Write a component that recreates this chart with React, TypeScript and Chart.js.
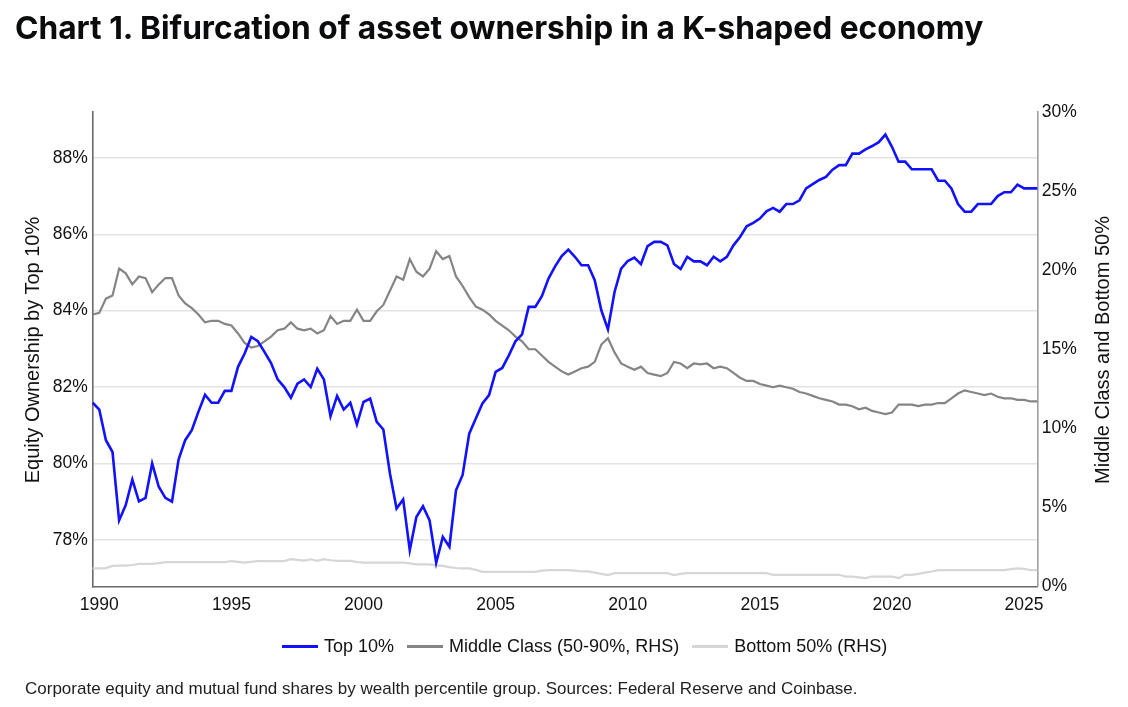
import React, { useEffect, useRef } from "react";
import { Chart, registerables } from "chart.js";

Chart.register(...registerables);

// ---------- data ----------
const years = [
  1989, 1990, 1991, 1992, 1993, 1994, 1995, 1996, 1997, 1998, 1999, 2000, 2001,
  2002, 2003, 2004, 2005, 2006, 2007, 2008, 2009, 2010, 2011, 2012, 2013, 2014,
  2015, 2016, 2017, 2018, 2019, 2020, 2021, 2022, 2023, 2024, 2025,
];
const quarterNames = ["Q1", "Q2", "Q3", "Q4"];
const firstQuarterOffset = 3; // series starts 1989 Q4

const xTickYears = [1990, 1995, 2000, 2005, 2010, 2015, 2020, 2025];
const leftTicks = [78, 80, 82, 84, 86, 88];
const rightTicks = [0, 5, 10, 15, 20, 25, 30];

const top10 = [
  81.59, 81.41, 80.61, 80.3, 78.51, 78.91, 79.58, 79.01, 79.1, 80.0,
  79.39, 79.1, 79.0, 80.1, 80.61, 80.87, 81.35, 81.8, 81.59, 81.59,
  81.9, 81.9, 82.53, 82.88, 83.31, 83.2, 82.92, 82.63, 82.2, 82.0,
  81.72, 82.09, 82.2, 82.0, 82.48, 82.2, 81.24, 81.77, 81.41, 81.59,
  81.02, 81.61, 81.7, 81.09, 80.89, 79.74, 78.82, 79.06, 77.73, 78.6,
  78.88, 78.51, 77.4, 78.08, 77.82, 79.3, 79.7, 80.78, 81.18, 81.57,
  81.79, 82.4, 82.5, 82.83, 83.2, 83.38, 84.1, 84.1, 84.38, 84.84,
  85.16, 85.43, 85.6, 85.41, 85.19, 85.19, 84.8, 84.01, 83.51, 84.49,
  85.1, 85.3, 85.39, 85.22, 85.69, 85.8, 85.8, 85.71, 85.22, 85.09,
  85.41, 85.29, 85.29, 85.19, 85.41, 85.29, 85.41, 85.71, 85.93, 86.21,
  86.3, 86.41, 86.6, 86.69, 86.59, 86.79, 86.79, 86.89, 87.2, 87.31,
  87.42, 87.5, 87.69, 87.81, 87.81, 88.11, 88.11, 88.22, 88.31, 88.41,
  88.61, 88.29, 87.9, 87.9, 87.7, 87.7, 87.7, 87.7, 87.4, 87.4,
  87.2, 86.79, 86.59, 86.59, 86.79, 86.79, 86.79, 87.0, 87.1, 87.1,
  87.3, 87.2, 87.2, 87.2,
];

const middleClass = [
  17.2, 17.3, 18.2, 18.4, 20.1, 19.8, 19.1, 19.6, 19.5, 18.6,
  19.1, 19.5, 19.5, 18.4, 17.9, 17.6, 17.2, 16.7, 16.8, 16.8,
  16.6, 16.5, 16.0, 15.4, 15.1, 15.2, 15.5, 15.8, 16.2, 16.3,
  16.7, 16.3, 16.2, 16.3, 16.0, 16.2, 17.1, 16.6, 16.8, 16.8,
  17.5, 16.8, 16.8, 17.4, 17.8, 18.7, 19.6, 19.4, 20.7, 19.9,
  19.6, 20.1, 21.2, 20.7, 20.9, 19.6, 19.0, 18.3, 17.7, 17.5,
  17.2, 16.8, 16.5, 16.2, 15.8, 15.5, 15.0, 15.0, 14.6, 14.2,
  13.9, 13.6, 13.4, 13.6, 13.8, 13.9, 14.2, 15.3, 15.7, 14.8,
  14.1, 13.9, 13.7, 13.9, 13.5, 13.4, 13.3, 13.5, 14.2, 14.1,
  13.8, 14.1, 14.05, 14.1, 13.8, 13.9, 13.8, 13.5, 13.2, 13.0,
  13.0, 12.8, 12.7, 12.6, 12.7, 12.6, 12.5, 12.3, 12.2, 12.05,
  11.9, 11.8, 11.7, 11.5, 11.5, 11.4, 11.2, 11.3, 11.1, 11.0,
  10.9, 11.0, 11.5, 11.5, 11.5, 11.4, 11.5, 11.5, 11.6, 11.6,
  11.9, 12.2, 12.4, 12.3, 12.2, 12.1, 12.2, 12.0, 11.9, 11.9,
  11.8, 11.8, 11.7, 11.7,
];

const bottom50 = [
  1.14, 1.14, 1.16, 1.3, 1.32, 1.32, 1.36, 1.43, 1.43, 1.43,
  1.48, 1.54, 1.54, 1.54, 1.54, 1.54, 1.54, 1.54, 1.54, 1.54,
  1.54, 1.61, 1.56, 1.51, 1.56, 1.61, 1.61, 1.61, 1.61, 1.61,
  1.73, 1.68, 1.64, 1.72, 1.62, 1.73, 1.66, 1.62, 1.62, 1.62,
  1.55, 1.51, 1.51, 1.51, 1.51, 1.51, 1.51, 1.51, 1.46, 1.4,
  1.4, 1.4, 1.34, 1.3, 1.22, 1.17, 1.14, 1.14, 1.05, 0.93,
  0.93, 0.93, 0.93, 0.93, 0.93, 0.93, 0.93, 0.93, 1.0, 1.03,
  1.03, 1.03, 1.03, 1.0, 0.95, 0.95, 0.88, 0.8, 0.72, 0.84,
  0.84, 0.84, 0.84, 0.84, 0.84, 0.84, 0.84, 0.84, 0.72, 0.8,
  0.84, 0.84, 0.84, 0.84, 0.84, 0.84, 0.84, 0.84, 0.84, 0.84,
  0.84, 0.84, 0.84, 0.74, 0.74, 0.74, 0.74, 0.74, 0.74, 0.74,
  0.74, 0.74, 0.74, 0.74, 0.63, 0.63, 0.58, 0.53, 0.63, 0.63,
  0.63, 0.63, 0.53, 0.74, 0.74, 0.8, 0.88, 0.95, 1.03, 1.03,
  1.03, 1.03, 1.03, 1.03, 1.03, 1.03, 1.03, 1.03, 1.03, 1.1,
  1.14, 1.12, 1.03, 1.03,
];

const quarterLabels = years
  .flatMap((y) => quarterNames.map((q) => `${y} ${q}`))
  .slice(firstQuarterOffset, firstQuarterOffset + top10.length);

// ---------- style ----------
const BLUE = "#1212ff";
const GREY = "#858585";
const LIGHT = "#d6d6d6";
const TEXT = "#111111";
const FONT = "'Liberation Sans', Arial, Helvetica, sans-serif";

export default function App() {
  const canvasRef = useRef<HTMLCanvasElement | null>(null);

  useEffect(() => {
    document.body.style.margin = "0";
    const canvas = canvasRef.current;
    if (!canvas) return;
    const tickFont = { family: FONT, size: 17.5 };
    const chart = new Chart(canvas, {
      type: "line",
      data: {
        labels: quarterLabels,
        datasets: [
          {
            label: "Top 10%",
            data: top10,
            borderColor: BLUE,
            backgroundColor: BLUE,
            borderWidth: 2.6,
            pointRadius: 0,
            tension: 0,
            yAxisID: "yLeft",
          },
          {
            label: "Middle Class (50-90%, RHS)",
            data: middleClass,
            borderColor: GREY,
            backgroundColor: GREY,
            borderWidth: 2.2,
            pointRadius: 0,
            tension: 0,
            yAxisID: "yRight",
          },
          {
            label: "Bottom 50% (RHS)",
            data: bottom50,
            borderColor: LIGHT,
            backgroundColor: LIGHT,
            borderWidth: 2.2,
            pointRadius: 0,
            tension: 0,
            yAxisID: "yRight",
          },
        ],
      },
      options: {
        responsive: false,
        animation: false,
        events: [],
        layout: { padding: { top: 112, bottom: 90, left: 0, right: 0 } },
        plugins: {
          legend: { display: false },
          tooltip: { enabled: false },
        },
        scales: {
          x: {
            type: "category",
            offset: false,
            grid: { display: false, drawTicks: false },
            border: { display: true, color: "#6a6a6a", width: 1.6 },
            ticks: {
              autoSkip: false,
              maxRotation: 0,
              minRotation: 0,
              padding: 8,
              color: TEXT,
              font: tickFont,
              callback: (_v: any, idx: number) => {
                const lab = quarterLabels[idx];
                const [yr, q] = lab.split(" ");
                return q === "Q1" && xTickYears.includes(Number(yr)) ? yr : "";
              },
            },
            afterFit: (s: any) => {
              s.height = 30.5;
            },
          },
          yLeft: {
            type: "linear",
            position: "left",
            min: 76.78,
            max: 89.2,
            afterBuildTicks: (s: any) => {
              s.ticks = leftTicks.map((v) => ({ value: v }));
            },
            grid: { color: "#e3e3e3", lineWidth: 1.5, drawTicks: false },
            border: { display: true, color: "#6a6a6a", width: 1.6 },
            ticks: {
              padding: 5,
              color: TEXT,
              font: tickFont,
              callback: (v: any) => `${v}%`,
            },
            afterFit: (s: any) => {
              s.width = 92.7;
            },
          },
          yRight: {
            type: "linear",
            position: "right",
            min: 0,
            max: 30,
            afterBuildTicks: (s: any) => {
              s.ticks = rightTicks.map((v) => ({ value: v }));
            },
            grid: { display: false, drawTicks: false },
            border: { display: true, color: "#a0a0a0", width: 1.6 },
            ticks: {
              padding: 4.5,
              color: TEXT,
              font: tickFont,
              callback: (v: any) => `${v}%`,
            },
            afterFit: (s: any) => {
              s.width = 90.7;
            },
          },
        },
      },
    });
    return () => chart.destroy();
  }, []);

  const legendItems = [
    { label: "Top 10%", color: BLUE },
    { label: "Middle Class (50-90%, RHS)", color: GREY },
    { label: "Bottom 50% (RHS)", color: LIGHT },
  ];

  const axisTitle = (cx: number): React.CSSProperties => ({
    position: "absolute",
    left: cx - 200,
    top: 349.5 - 12,
    width: 400,
    height: 24,
    lineHeight: "24px",
    textAlign: "center",
    fontFamily: FONT,
    fontSize: 20,
    color: TEXT,
    transform: "rotate(-90deg)",
    transformOrigin: "50% 50%",
    whiteSpace: "nowrap",
  });

  return (
    <div
      style={{
        position: "absolute",
        left: 0,
        top: 0,
        width: 1128,
        height: 707,
        background: "#ffffff",
        overflow: "hidden",
      }}
    >
      <canvas
        ref={canvasRef}
        width={1128}
        height={707}
        style={{ position: "absolute", left: 0, top: 0, width: 1128, height: 707 }}
      />
      <div
        style={{
          position: "absolute",
          left: 15,
          top: 12,
          fontFamily: "Inter, 'Noto Sans', sans-serif",
          fontWeight: 700,
          fontSize: 31.7,
          lineHeight: "32px",
          color: "#0a0b0d",
          whiteSpace: "nowrap",
        }}
      >
        Chart 1. Bifurcation of asset ownership in a K-shaped economy
      </div>
      <div style={axisTitle(32)}>Equity Ownership by Top 10%</div>
      <div style={axisTitle(1101.7)}>Middle Class and Bottom 50%</div>
      <div
        style={{
          position: "absolute",
          left: 282,
          top: 634,
          height: 24,
          display: "flex",
          alignItems: "center",
          fontFamily: FONT,
          fontSize: 18,
          color: TEXT,
          whiteSpace: "nowrap",
        }}
      >
        {legendItems.map((it, i) => (
          <div
            key={it.label}
            style={{ display: "flex", alignItems: "center", marginLeft: i === 0 ? 0 : 13 }}
          >
            <span
              style={{
                display: "inline-block",
                width: 36,
                height: 3,
                background: it.color,
                marginRight: 6,
              }}
            />
            <span>{it.label}</span>
          </div>
        ))}
      </div>
      <div
        style={{
          position: "absolute",
          left: 25,
          top: 680,
          fontFamily: FONT,
          fontSize: 17,
          lineHeight: "17px",
          color: "#1e1e1e",
          whiteSpace: "nowrap",
        }}
      >
        Corporate equity and mutual fund shares by wealth percentile group. Sources: Federal Reserve and Coinbase.
      </div>
    </div>
  );
}
